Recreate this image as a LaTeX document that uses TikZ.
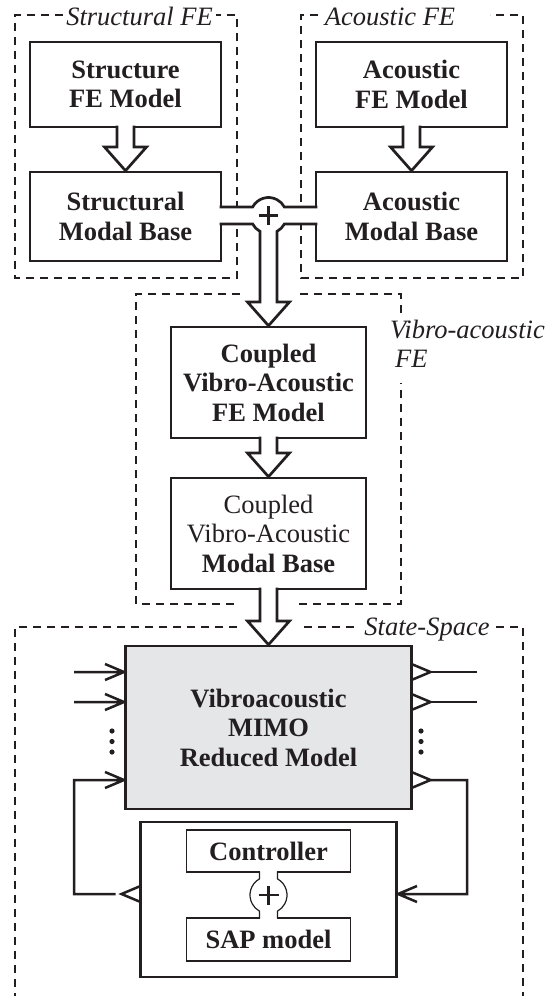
\documentclass[tikz,border=0pt]{standalone}
\usepackage{fontspec}
\setmainfont{Liberation Serif}
\usetikzlibrary{calc}
\definecolor{ink}{RGB}{35,31,32}
\definecolor{panel}{RGB}{229,230,232}
\newcommand\diagfont{\fontsize{26.5}{29.5}\selectfont}
% hollow block arrow from the bottom of #1 to the top of #2
\newcommand\hollow[2]{%
  \fill[white] ($(#1.south)+(-8.5,2)$) -- ($(#2.north)+(-8.5,25)$) -- ($(#2.north)+(-21,25)$)
    -- ($(#2.north)+(0,1.3)$) -- ($(#2.north)+(21,25)$) -- ($(#2.north)+(8.5,25)$)
    -- ($(#1.south)+(8.5,2)$) -- cycle;
  \draw[wall] ($(#1.south)+(-8.5,1.3)$) -- ($(#2.north)+(-8.5,25)$) -- ($(#2.north)+(-21,25)$)
    -- ($(#2.north)+(0,1.3)$) -- ($(#2.north)+(21,25)$) -- ($(#2.north)+(8.5,25)$)
    -- ($(#1.south)+(8.5,1.3)$);}
\begin{document}
\begin{tikzpicture}[x=1pt,y=1pt,line join=miter,
  blk/.style={draw=ink,line width=2.7pt,inner sep=0pt,outer sep=0pt,align=center,
    font=\diagfont\bfseries,text=ink},
  thinblk/.style={blk,line width=1.2pt},
  wall/.style={draw=ink,line width=2.7pt},
  thinwall/.style={draw=ink,line width=1.2pt},
  grp/.style={draw=ink,line width=1.3pt,dash pattern=on 8pt off 6pt},
  glabel/.style={font=\diagfont\itshape,text=ink,inner sep=0pt},
  sig/.style={draw=ink,line width=2.5pt}]
\useasboundingbox (0,0) rectangle (547,-996);
\fill[white] (0,0) rectangle (547,-996);

% dashed groups
\draw[grp] (63,-15) -- (15,-15) -- (15,-278) -- (237,-278) -- (237,-15) -- (216,-15);
\node[glabel,anchor=base] (tsf) at (139.5,-25) {Structural FE};
\draw[grp] (318,-15) -- (301,-15) -- (301,-278) -- (523,-278) -- (523,-15) -- (490,-15);
\node[glabel,anchor=base] (taf) at (390,-25) {Acoustic FE};
\draw[grp] (240,-294) -- (136,-294) -- (136,-604) -- (238,-604);
\draw[grp] (299,-604) -- (401,-604) -- (401,-383);
\draw[grp] (401,-313) -- (401,-294) -- (300,-294);
\node[glabel,anchor=west,align=left] (tvf) at (390,-344) {Vibro-acoustic\\\hspace*{5pt}FE};
\draw[grp] (237,-627) -- (15,-627) -- (15,-997);
\draw[grp] (304,-627) -- (358,-627);
\draw[grp] (496,-627) -- (523,-627) -- (523,-997);
\node[glabel,anchor=base] (tss) at (427,-635) {State-Space};

% blocks
\node[blk,minimum width=191pt,minimum height=85pt] (sfe) at (125.5,-84.5) {Structure\\FE Model};
\node[blk,minimum width=191pt,minimum height=89pt] (smb) at (125.5,-216.5) {Structural\\Modal Base};
\node[blk,minimum width=191pt,minimum height=85pt] (afe) at (411.5,-84.5) {Acoustic\\FE Model};
\node[blk,minimum width=191pt,minimum height=89pt] (amb) at (411.5,-216.5) {Acoustic\\Modal Base};
\node[blk,minimum width=195pt,minimum height=111pt] (cfe) at (268.5,-382.5) {Coupled\\Vibro-Acoustic\\FE Model};
\node[blk,minimum width=195pt,minimum height=111pt,font=\diagfont] (cmb) at (268.5,-533.5)
  {Coupled\\Vibro-Acoustic\\\textbf{Modal Base}};
\node[blk,fill=panel,minimum width=286pt,minimum height=163pt] (mimo) at (268.5,-727.5)
  {Vibroacoustic\\MIMO\\Reduced Model};
\node[blk,minimum width=256pt,minimum height=155pt] (ctlout) at (268.5,-899.5) {};
\node[thinblk,minimum width=164pt,minimum height=42pt] (ctl) at (268.5,-851) {Controller};
\node[thinblk,minimum width=164pt,minimum height=43pt] (sap) at (268.5,-939.5) {SAP model};

% block arrows
\hollow{sfe}{smb}
\hollow{afe}{amb}
\hollow{cfe}{cmb}
\hollow{cmb}{mimo}

% summing junction of the two modal bases
\coordinate (jc) at (268.5,-215.5);
\coordinate (ju) at ($(jc)+(0,8.5)$);
\coordinate (jl) at ($(jc)+(0,-8.5)$);
\fill[white] ($(smb.east|-ju)+(-2,-1)$) rectangle ($(amb.west|-jl)+(2,1)$);
\fill[white] ($(jc)+(-8.5,-8)$) -- ($(cfe.north)+(-8.5,25)$) -- ($(cfe.north)+(-21,25)$)
  -- ($(cfe.north)+(0,1.3)$) -- ($(cfe.north)+(21,25)$) -- ($(cfe.north)+(8.5,25)$)
  -- ($(jc)+(8.5,-8)$) -- cycle;
\draw[wall] ($(smb.east|-ju)+(-1.3,0)$) -- ($(jc)+(151.8:18)$)
  arc[start angle=151.8,end angle=28.2,radius=18pt] -- ($(amb.west|-ju)+(1.3,0)$);
\draw[wall] ($(smb.east|-jl)+(-1.3,0)$) -- ($(jc)+(208.2:18)$)
  arc[start angle=208.2,end angle=241.8,radius=18pt]
  -- ($(cfe.north)+(-8.5,25)$) -- ($(cfe.north)+(-21,25)$) -- ($(cfe.north)+(0,1.3)$)
  -- ($(cfe.north)+(21,25)$) -- ($(cfe.north)+(8.5,25)$) -- ($(jc)+(298.2:18)$)
  arc[start angle=298.2,end angle=331.8,radius=18pt] -- ($(amb.west|-jl)+(1.3,0)$);
\draw[wall,line width=2.4pt] ($(jc)+(-9.5,0)$) -- ($(jc)+(9.5,0)$)
  ($(jc)+(0,-9.5)$) -- ($(jc)+(0,9.5)$);

% controller / SAP junction
\coordinate (cc) at (268.5,-895);
\fill[white] ($(ctl.south)+(-8.4,1)$) rectangle ($(ctl.south)+(8.4,-1)$);
\fill[white] ($(sap.north)+(-8.4,1)$) rectangle ($(sap.north)+(8.4,-1)$);
\draw[thinwall] ($(ctl.south)+(-9,0.6)$) -- ($(cc)+(119.1:18.5)$)
  arc[start angle=119.1,end angle=240.9,radius=18.5pt] -- ($(sap.north)+(-9,-0.6)$);
\draw[thinwall] ($(ctl.south)+(9,0.6)$) -- ($(cc)+(60.9:18.5)$)
  arc[start angle=60.9,end angle=-60.9,radius=18.5pt] -- ($(sap.north)+(9,-0.6)$);
\draw[wall,line width=2.4pt] ($(cc)+(-10,0)$) -- ($(cc)+(10,0)$)
  ($(cc)+(0,-9.5)$) -- ($(cc)+(0,9.5)$);

% inputs and feedback on the left
\coordinate (i1) at (74,-672);
\coordinate (i2) at (74,-702);
\coordinate (fl2) at (74,-780);
\coordinate (fl1) at (74,-894);
\coordinate (cl) at (fl1-|ctlout.west);
\coordinate (t1) at ($(i1-|mimo.west)+(-1.5,0)$);
\coordinate (t2) at ($(i2-|mimo.west)+(-1.5,0)$);
\coordinate (t3) at ($(fl2-|mimo.west)+(-1.5,0)$);
\draw[sig] (i1) -- (t1) ($(t1)+(-19,8)$) -- (t1) -- ($(t1)+(-19,-8)$);
\draw[sig] (i2) -- (t2) ($(t2)+(-19,8)$) -- (t2) -- ($(t2)+(-19,-8)$);
\draw[sig] ($(cl)+(-25,0)$) -- (fl1) -- (fl2) -- (t3) ($(t3)+(-19,8)$) -- (t3) -- ($(t3)+(-19,-8)$);
\draw[sig] ($(cl)+(0,8)$) -- ($(cl)+(-19,0)$) -- ($(cl)+(0,-8)$);

% outputs and feedback on the right
\coordinate (o1) at (477,-672);
\coordinate (o2) at (477,-702);
\coordinate (fr1) at (467,-780);
\coordinate (fr2) at (467,-894);
\coordinate (m1) at (o1-|mimo.east);
\coordinate (m2) at (o2-|mimo.east);
\coordinate (m3) at (fr1-|mimo.east);
\coordinate (t4) at ($(fr2-|ctlout.east)+(1.5,0)$);
\draw[sig] (o1) -- ($(m1)+(19,0)$);
\draw[sig] ($(m1)+(0,8)$) -- ($(m1)+(19,0)$) -- ($(m1)+(0,-8)$);
\draw[sig] (o2) -- ($(m2)+(19,0)$);
\draw[sig] ($(m2)+(0,8)$) -- ($(m2)+(19,0)$) -- ($(m2)+(0,-8)$);
\draw[sig] ($(m3)+(19,0)$) -- (fr1) -- (fr2) -- (t4) ($(t4)+(19,8)$) -- (t4) -- ($(t4)+(19,-8)$);
\draw[sig] ($(m3)+(0,8)$) -- ($(m3)+(19,0)$) -- ($(m3)+(0,-8)$);

% ellipsis dots for further channels
\foreach \yy in {-731,-741.5,-752} {
  \fill[ink] (112,\yy) circle (2.6);
  \fill[ink] (421,\yy) circle (2.6);
}
\end{tikzpicture}
\end{document}
